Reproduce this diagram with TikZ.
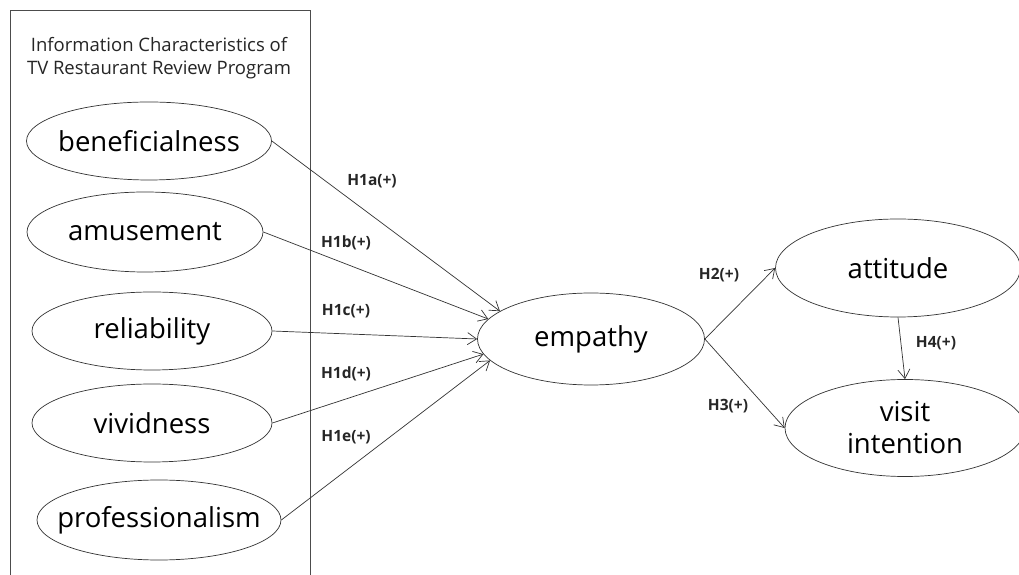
\documentclass[tikz,border=0pt]{standalone}
\usepackage{fontspec}
\setmainfont{Open Sans}
\usetikzlibrary{shapes.geometric,arrows.meta}
\tikzset{
  var/.style={draw=black!80, line width=0.7pt, ellipse, inner xsep=-40pt, inner ysep=-20pt, font=\fontsize{27.5}{31}\selectfont},
  hyp/.style={font=\fontsize{15.5}{18}\selectfont\bfseries, inner sep=0pt, text=black!85},
  path/.style={draw=black!80, line width=0.7pt, -{Straight Barb[length=9pt,width=12pt,line width=0.7pt]}},
}
\begin{document}
\begin{tikzpicture}[x=1pt,y=1pt]
\useasboundingbox (0,0) rectangle (1019,575);
\clip (0,0) rectangle (1019,575);
\fill[white] (0,0) rectangle (1019,575);
\draw[black!70, line width=0.8pt] (10,-10) -- (10,565) -- (310,565) -- (310,-10);
\node[font=\fontsize{18.5}{23}\selectfont, align=center, text=black!85] (title) at (159,517) {Information Characteristics of\\TV Restaurant Review Program};
\node[var, minimum width=245, minimum height=78] (ben) at (149,434) {beneficialness};
\node[var, minimum width=236, minimum height=80] (amu) at (145,343) {amusement};
\node[var, minimum width=240, minimum height=78] (rel) at (152,244) {reliability};
\node[var, minimum width=240, minimum height=78] (viv) at (152,152) {vividness};
\node[var, minimum width=244, minimum height=80] (pro) at (159,55) {professionalism};
\node[var, minimum width=227, minimum height=92] (emp) at (591,236) {empathy};
\node[var, minimum width=245, minimum height=98] (att) at (898,307) {attitude};
\node[var, minimum width=240, minimum height=97, align=center, font=\fontsize{27.5}{32}\selectfont] (vis) at (905,147) {visit\\intention};
\draw[path] (ben.east) -- (emp.163);
\draw[path] (amu.east) -- (emp.169);
\draw[path] (rel.east) -- (emp.180);
\draw[path] (viv.east) -- (emp.188);
\draw[path] (pro.east) -- (emp.192.5);
\draw[path] (emp.east) -- (att.west);
\draw[path] (emp.east) -- (vis.west);
\draw[path] (att.south) -- (vis.north);
\node[hyp] (l1a) at (372,394) {H1a(+)};
\node[hyp] (l1b) at (346,332) {H1b(+)};
\node[hyp] (l1c) at (346,264) {H1c(+)};
\node[hyp] (l1d) at (346,201) {H1d(+)};
\node[hyp] (l1e) at (346,138) {H1e(+)};
\node[hyp] (l2) at (719,300) {H2(+)};
\node[hyp] (l3) at (728,169) {H3(+)};
\node[hyp] (l4) at (936,232) {H4(+)};
\end{tikzpicture}
\end{document}
